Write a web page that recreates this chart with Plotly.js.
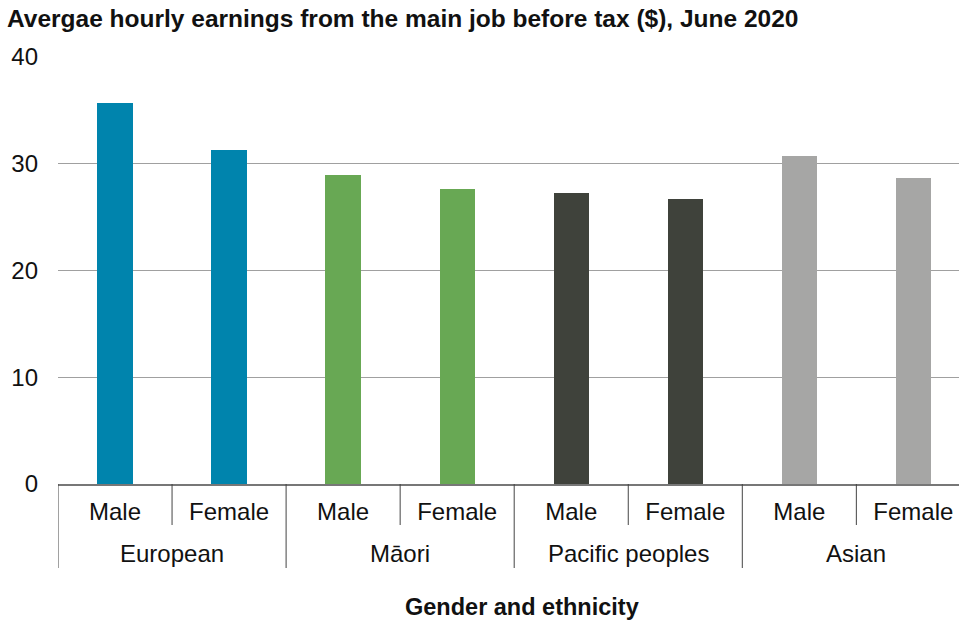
<!DOCTYPE html>
<html>
<head>
<meta charset="utf-8">
<script src="https://cdn.plot.ly/plotly-3.0.1.min.js"></script>
<style>html,body{margin:0;padding:0;background:#fff}#chart{width:959px;height:623px}</style>
</head>
<body>
<div id="chart"></div>
<script>
var ethnicities = ["European", "Māori", "Pacific peoples", "Asian"];
var genders = ["Male", "Female"];
var values = [35.7, 31.3, 28.9, 27.6, 27.3, 26.7, 30.7, 28.7];
var groupColors = ["#0084ad", "#68a854", "#3f423b", "#a6a6a5"];
var yTicks = [0, 10, 20, 30, 40];

var xs = [], labels = [], colors = [];
ethnicities.forEach(function (eth, g) {
  genders.forEach(function (gen, k) {
    xs.push(g * genders.length + k);
    labels.push(gen);
    colors.push(groupColors[g]);
  });
});

var trace = {
  type: "bar",
  x: xs,
  y: values,
  width: 0.31,
  marker: {color: colors, line: {width: 0}},
  hoverinfo: "skip"
};

var FONT = "Liberation Sans, Arial, sans-serif";
var shapes = [], annotations = [];
var plotH = 623 - 57 - 139;
ethnicities.forEach(function (eth, g) {
  var start = g * genders.length - 0.5;
  shapes.push({type: "line", xref: "x", yref: "paper", x0: start + 1, x1: start + 1,
    y0: 0, y1: -41 / plotH, line: {color: "#444", width: 1}});
  shapes.push({type: "line", xref: "x", yref: "paper", x0: start, x1: start,
    y0: 0, y1: -84 / plotH, line: {color: "#444", width: 1}});
  annotations.push({xref: "x", yref: "paper", x: start + genders.length / 2, y: -69 / plotH,
    text: eth, showarrow: false, xanchor: "center", yanchor: "middle",
    font: {family: FONT, size: 24, color: "#111"}});
});
annotations.push({xref: "paper", yref: "paper", x: (522 - 58) / 901, y: -123 / plotH,
  text: "<b>Gender and ethnicity</b>", showarrow: false, xanchor: "center", yanchor: "middle",
  font: {family: FONT, size: 23.5, color: "#111"}});

var layout = {
  width: 959, height: 623,
  margin: {l: 58, r: 0, t: 57, b: 139},
  paper_bgcolor: "#fff", plot_bgcolor: "#fff",
  showlegend: false,
  bargap: 0,
  title: {
    text: "<b>Avergae hourly earnings from the main job before tax ($), June 2020</b>",
    x: 7 / 959, xanchor: "left", xref: "container",
    y: 1 - 18 / 623, yanchor: "middle", yref: "container",
    font: {family: FONT, size: 24.5, color: "#111"}
  },
  xaxis: {
    range: [-0.5, 7.4],
    tickvals: xs, ticktext: labels,
    ticks: "", showgrid: false, zeroline: false,
    showline: true, linecolor: "#777", linewidth: 2,
    tickfont: {family: FONT, size: 24, color: "#111"},
    ticklabelstandoff: 5,
    fixedrange: true
  },
  yaxis: {
    range: [0, 40],
    tickvals: yTicks,
    ticks: "", showgrid: true, gridcolor: "#a0a0a0", gridwidth: 1,
    zeroline: false, showline: false,
    tickfont: {family: FONT, size: 24, color: "#111"},
    ticklabelstandoff: 19,
    fixedrange: true
  },
  shapes: shapes,
  annotations: annotations
};

Plotly.newPlot("chart", [trace], layout, {displayModeBar: false, staticPlot: true});
</script>
</body>
</html>
